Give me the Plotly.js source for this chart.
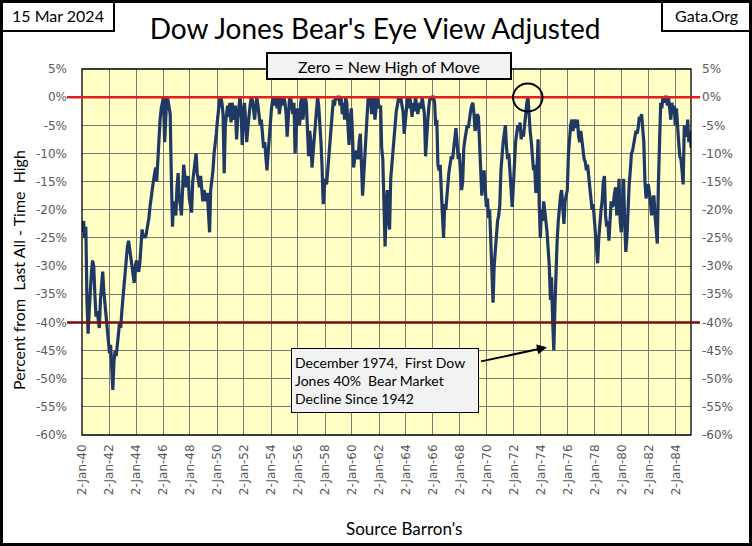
<!DOCTYPE html>
<html>
<head>
<meta charset="utf-8">
<script src="https://cdn.plot.ly/plotly-3.0.1.min.js"></script>
<style>
  html, body { margin: 0; padding: 0; background: #fff; }
  #Chart { width: 752px; height: 546px; }
</style>
</head>
<body>
<div id="Chart"></div>
<script>
// monthly readings, percent below the last all-time high
var pct1940s = [
  -24, -22, -25, -23, -36, -42, -38, -33, -31, -29, -30, -35,
  -39, -38, -40, -41, -36, -33, -31, -34.5, -37, -39, -41.5, -44,
  -45.5, -44, -49, -52, -47, -45, -46, -44.5, -42, -40, -41, -38,
  -35.5, -32.5, -30, -28.5, -26.5, -25.5, -27, -29, -30.5, -31, -33, -30,
  -29, -30.5, -31, -29.5, -27, -23.5, -25, -24.5, -25, -24, -22.5, -21.5,
  -19.5, -17, -16.5, -15, -13.5, -12.5, -15, -11, -7.5, -4, -2, -0.5,
  0, -8, -2.5, 0, -0.5, -1.5, -3, -14, -23, -18.5, -20, -21,
  -16, -13.5, -18, -19, -21, -16.5, -12, -14, -16, -15, -14, -18,
  -19, -20.5, -15, -13, -12, -10, -13.5, -14.5, -16, -14, -17.5, -18.5,
  -16.5, -18, -18.5, -17, -20, -24, -16.5, -15, -13, -10, -8.5, -6.5
]
var pct1950s = [
  -4, -2, -0.5, 0, -1, -3, -13.5, -5, -3, -1.5, -3.5, -1,
  -4.5, -1, -2.5, -4, -1.5, -7.5, -4, -1, 0, -2, -8.5, -4,
  -1, -4, -8, -5.5, -3, -1.5, 0, -0.5, -2, -4, -1.5, 0,
  -1.5, -3, -5, -4, -7, -9, -8, -11, -13, -10, -7, -4,
  -2, -0.5, 0, -1.5, 0, -2, 0, -3, -1, 0, -1.5, 0,
  -1, -3, -7, -2, -0.5, 0, -1.5, -3, -1, -10, -6, -2,
  -3, -5, -1, 0, -4, -2, 0, -1, -5, -10.5, -6, -8,
  -12.5, -9, -7.5, -5, -2, 0, -1.5, -4, -8, -12.5, -19, -16,
  -14.5, -15.5, -13, -10.5, -7, -5, -3, -0.5, -1.5, 0, -0.5, 0,
  0, -1.5, 0, -3, -1, -4, 0, -1, -5, -8.5, -4, -2
]
var pct1960s = [
  -6.5, -12.5, -11, -9.5, -10, -11, -8, -6.5, -12, -17.5, -14, -10.5,
  -5, -2, 0, -1.5, 0, -3, -2, 0, -4, -2, 0, -1,
  -2, -1.5, -9, -11, -17, -26.5, -20, -16.5, -22, -23.5, -14.5, -12,
  -8.5, -6, -4.5, -2.5, -1.5, 0, -1, 0, -1.5, -2.5, -6.5, -4,
  -1, 0, -2, 0, -1.5, -3.5, -1, -2.5, 0, -1.5, -3, -2,
  -1, -2, 0, -1.5, -3, -10.5, -6, -4, -1.5, 0, -0.5, 0,
  0, -1, -5, -4, -12, -13, -12, -18, -21, -25, -19, -20,
  -16.5, -15, -13, -12, -10.5, -11, -9, -7, -5.5, -8, -11, -10,
  -13, -16.5, -15, -9, -7.5, -6, -5, -5.5, -3.5, -2.5, -1.5, -1,
  -3, -6, -5, -3, -3.5, -8, -15, -17.5, -14.5, -13, -16, -19.5
]
var pct1970s = [
  -18, -21.5, -20, -25, -30, -36.5, -30, -27, -23, -22, -21, -19,
  -13, -10, -8, -6.5, -5, -9, -11, -10, -13, -15.5, -19.5, -16,
  -10, -8, -6.5, -5, -6, -4.5, -7.5, -6, -7, -5, -2.5, -1,
  0, -4, -6, -8, -11, -13, -12, -17, -13, -7.5, -19, -25,
  -20, -22, -18.5, -21, -22, -24, -27, -30, -36, -32, -40, -45,
  -37, -30, -25.5, -22, -19, -17.5, -16.5, -21, -22.5, -18.5, -17, -16.5,
  -10, -6, -5, -4, -6, -4.5, -4, -5.5, -4, -7, -8, -6,
  -8, -10.5, -11, -11.5, -13, -12, -14, -15.5, -18, -20, -19, -22,
  -24, -27, -29.5, -25, -22, -20, -18.5, -15, -14, -21, -23, -22,
  -25.5, -21, -18.5, -19.5, -19, -17, -16, -21, -19, -14.5, -22, -24
]
var pct1980s = [
  -20, -14.5, -22, -27.5, -25, -19, -15.5, -13, -10, -9.5, -8, -7,
  -6, -6.5, -5.5, -3.5, -4, -3, -5, -8, -15, -18, -16, -15.5,
  -17, -19, -21, -18, -17.5, -21, -23.5, -26, -15, -8, -1, -2,
  0, -1, 0, 0, -1.5, 0, -2.5, -4, -1, -3, -1.5, -5,
  -2, -6, -8, -10.5, -11, -13, -15.5, -5, -6, -7, -4, -8,
  -6, -9
]
var x_tick_vals = ["1940-01-02", "1942-01-02", "1944-01-02", "1946-01-02", "1948-01-02", "1950-01-02",
  "1952-01-02", "1954-01-02", "1956-01-02", "1958-01-02", "1960-01-02", "1962-01-02",
  "1964-01-02", "1966-01-02", "1968-01-02", "1970-01-02", "1972-01-02", "1974-01-02",
  "1976-01-02", "1978-01-02", "1980-01-02", "1982-01-02", "1984-01-02"]
var x_tick_text = ["2-Jan-40", "2-Jan-42", "2-Jan-44", "2-Jan-46", "2-Jan-48", "2-Jan-50",
  "2-Jan-52", "2-Jan-54", "2-Jan-56", "2-Jan-58", "2-Jan-60", "2-Jan-62",
  "2-Jan-64", "2-Jan-66", "2-Jan-68", "2-Jan-70", "2-Jan-72", "2-Jan-74",
  "2-Jan-76", "2-Jan-78", "2-Jan-80", "2-Jan-82", "2-Jan-84"]
var y_tick_vals = [5, 0, -5, -10, -15, -20, -25, -30, -35, -40, -45, -50, -55, -60]
var y_tick_text = ["5%", "0%", "-5%", "-10%", "-15%", "-20%", "-25%", "-30%", "-35%", "-40%", "-45%", "-50%", "-55%", "-60%"]

var pct = pct1940s.concat(pct1950s, pct1960s, pct1970s, pct1980s)
var dates = []
for (let i = 0; i < pct.length; i++){
    var yr = 1940 + Math.floor(i / 12)
    var mo = (i % 12) + 1
    dates.push(`${yr}-${mo < 10 ? "0" + mo : mo}-15`)
}

// plot box in pixels, used to place the decorations
var L = 82, T = 69, W = 609, H = 366
var Y_MIN = -60, Y_MAX = 5
function px(x){ return (x - L) / W }
function py(y){ return (T + H - y) / H }
function pv(v){ return (v - Y_MIN) / (Y_MAX - Y_MIN) }

var tick_font = {family: "DejaVu Sans", size: 12, color: "#595959"}
var text_font = {family: "Lato", color: "#000"}

var traces = [
    {
        x: dates, y: pct, type: "scatter", mode: "lines",
        line: {color: "#1f3864", width: 3.2},
        hoverinfo: "skip"
    },
    {
        // keeps the right hand axis drawn
        x: [dates[0]], y: [null], yaxis: "y2", type: "scatter", mode: "lines",
        showlegend: false, hoverinfo: "skip"
    }
]

var layout = {
    width: 752, height: 546,
    margin: {l: L, r: 752 - L - W, t: T, b: 546 - T - H},
    paper_bgcolor: "#ffffff",
    plot_bgcolor: "#ffffc6",
    showlegend: false,
    title: {
        text: "Dow Jones Bear's Eye View Adjusted",
        font: {family: "Lato", size: 28, color: "#000"},
        x: 375 / 752, xanchor: "center",
        y: 1 - 29 / 546, yanchor: "middle"
    },
    xaxis: {
        type: "date",
        range: ["1940-01-02", "1985-02-12"],
        tickvals: x_tick_vals, ticktext: x_tick_text,
        tickangle: -90, tickfont: tick_font,
        ticks: "", ticklabelstandoff: 6,
        showgrid: true, gridcolor: "#7a7a72", gridwidth: 1,
        zeroline: false, showline: false, fixedrange: true
    },
    yaxis: {
        range: [Y_MIN, Y_MAX],
        tickvals: y_tick_vals, ticktext: y_tick_text,
        tickfont: tick_font, ticks: "", ticklabelstandoff: 14,
        showgrid: true, gridcolor: "#7a7a72", gridwidth: 1,
        zeroline: false, showline: false, fixedrange: true
    },
    yaxis2: {
        overlaying: "y", side: "right",
        range: [Y_MIN, Y_MAX],
        tickvals: y_tick_vals, ticktext: y_tick_text,
        tickfont: tick_font, ticks: "", ticklabelstandoff: 10,
        showgrid: false, zeroline: false, showline: false, fixedrange: true
    },
    shapes: [
        // plot frame
        {type: "rect", xref: "paper", yref: "paper", x0: 0, x1: 1, y0: 0, y1: 1,
         line: {color: "#000", width: 1.3}},
        // zero and -40% lines
        {type: "line", xref: "paper", yref: "paper", x0: px(67), x1: px(700), y0: pv(0), y1: pv(0),
         line: {color: "#e41e1e", width: 2.5}},
        {type: "line", xref: "paper", yref: "paper", x0: px(67), x1: px(700), y0: pv(-40), y1: pv(-40),
         line: {color: "#7a0c0c", width: 2.5}},
        // circle at the Jan 1973 high
        {type: "circle", xref: "paper", yref: "paper",
         x0: px(513), x1: px(542.5), y0: py(83.5), y1: py(111.5),
         line: {color: "#000", width: 2}},
        // outer border and corner boxes
        {type: "rect", xref: "paper", yref: "paper", x0: px(1.5), x1: px(750.5), y0: py(1.5), y1: py(544.5),
         line: {color: "#000", width: 3}},
        {type: "rect", xref: "paper", yref: "paper", x0: px(1), x1: px(114), y0: py(1), y1: py(31),
         line: {color: "#000", width: 2}},
        {type: "rect", xref: "paper", yref: "paper", x0: px(662), x1: px(751), y0: py(1), y1: py(31),
         line: {color: "#000", width: 2}}
    ],
    annotations: [
        {text: "15 Mar 2024", xref: "paper", yref: "paper", x: px(57.5), y: py(16),
         xanchor: "center", yanchor: "middle", showarrow: false, font: Object.assign({size: 16}, text_font)},
        {text: "Gata.Org", xref: "paper", yref: "paper", x: px(706.5), y: py(16),
         xanchor: "center", yanchor: "middle", showarrow: false, font: Object.assign({size: 16}, text_font)},
        {text: "Zero = New High of Move", xref: "paper", yref: "paper", x: px(389), y: py(66),
         xanchor: "center", yanchor: "middle", showarrow: false,
         font: Object.assign({size: 16}, text_font),
         bgcolor: "#f2f2f2", bordercolor: "#000", borderwidth: 2, borderpad: 1,
         width: 240, height: 22},
        {text: "December 1974,\u00a0 First Dow<br>Jones 40%\u00a0 Bear Market<br>Decline Since 1942",
         xref: "paper", yref: "paper", x: px(385), y: py(380.7),
         xanchor: "center", yanchor: "middle", showarrow: false, align: "left",
         font: Object.assign({size: 14}, text_font),
         bgcolor: "#f2f2f2", bordercolor: "#000", borderwidth: 1, borderpad: 3,
         width: 180, height: 57},
        {text: "", xref: "paper", yref: "paper", x: px(547), y: py(347.3),
         showarrow: true, ax: -67.5, ay: 14.4, arrowhead: 2, arrowsize: 1, arrowwidth: 2,
         arrowcolor: "#000", standoff: 0},
        {text: "Percent from\u00a0 Last All - Time\u00a0 High", xref: "paper", yref: "paper",
         x: px(18), y: py(270), textangle: -90, xanchor: "center", yanchor: "middle",
         showarrow: false, font: Object.assign({size: 16}, text_font)},
        {text: "Source Barron's", xref: "paper", yref: "paper", x: px(404), y: py(528),
         xanchor: "center", yanchor: "middle", showarrow: false,
         font: Object.assign({size: 17}, text_font)}
    ]
}

Plotly.newPlot("Chart", traces, layout, {displayModeBar: false, staticPlot: true})
</script>
</body>
</html>
